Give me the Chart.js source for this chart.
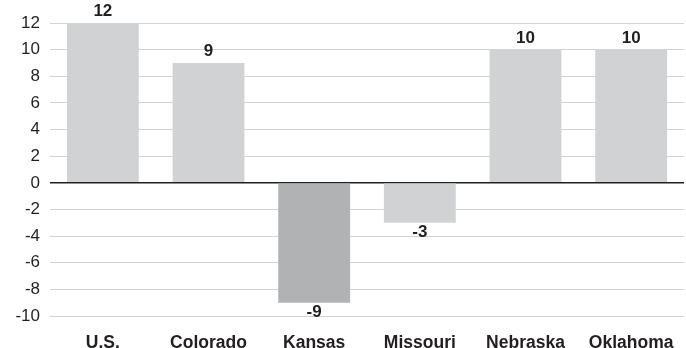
<!DOCTYPE html>
<html>
<head>
<meta charset="utf-8">
<script src="https://cdn.jsdelivr.net/npm/chart.js@4/dist/chart.umd.min.js"></script>
<style>
  html, body { margin: 0; padding: 0; background: #fff; }
  #wrap { width: 686px; height: 348px; }
</style>
</head>
<body>
<div id="wrap"><canvas id="chart" width="686" height="348"></canvas></div>
<script>
// data
const states = ["U.S.", "Colorado", "Kansas", "Missouri", "Nebraska", "Oklahoma"];
const changes = [12, 9, -9, -3, 10, 10];
const barColors = ["#d1d2d4", "#d1d2d4", "#b1b2b4", "#d1d2d4", "#d1d2d4", "#d1d2d4"];

const yMin = -10, yMax = 12, yStep = 2;
const ink = "#231f20";
const fontFamily = "'Liberation Sans', Arial, Helvetica, sans-serif";

// value labels above / below each bar
const valueLabels = {
  id: "valueLabels",
  afterDatasetsDraw(chart) {
    const { ctx } = chart;
    const meta = chart.getDatasetMeta(0);
    ctx.save();
    ctx.font = "bold 17px " + fontFamily;
    ctx.fillStyle = ink;
    ctx.textAlign = "center";
    ctx.textBaseline = "alphabetic";
    meta.data.forEach((bar, i) => {
      const v = changes[i];
      const y = v >= 0 ? bar.y - 7 : bar.y + 14;
      ctx.fillText(String(v), bar.x, y);
    });
    ctx.restore();
  }
};

new Chart(document.getElementById("chart").getContext("2d"), {
  type: "bar",
  data: {
    labels: states,
    datasets: [{
      data: changes,
      backgroundColor: barColors,
      borderWidth: 0,
      barPercentage: 0.68,
      categoryPercentage: 1
    }]
  },
  options: {
    responsive: false,
    animation: false,
    layout: { padding: { top: 23, right: 2, left: 0, bottom: 0 } },
    plugins: { legend: { display: false }, tooltip: { enabled: false } },
    scales: {
      x: {
        afterFit(scale) { scale.height = 32; },
        grid: { display: false },
        border: { display: false },
        ticks: {
          color: ink,
          padding: 9,
          font: { family: fontFamily, size: 17.5, weight: "bold" }
        }
      },
      y: {
        min: yMin,
        max: yMax,
        z: 1,
        afterFit(scale) { scale.width = 50; },
        border: { display: false },
        grid: {
          drawTicks: false,
          color: (c) => c.tick && c.tick.value === 0 ? ink : "#d3d3d3",
          lineWidth: (c) => c.tick && c.tick.value === 0 ? 1.5 : 1
        },
        ticks: {
          stepSize: yStep,
          color: ink,
          padding: 10,
          font: { family: fontFamily, size: 17 }
        }
      }
    }
  },
  plugins: [valueLabels]
});
</script>
</body>
</html>
